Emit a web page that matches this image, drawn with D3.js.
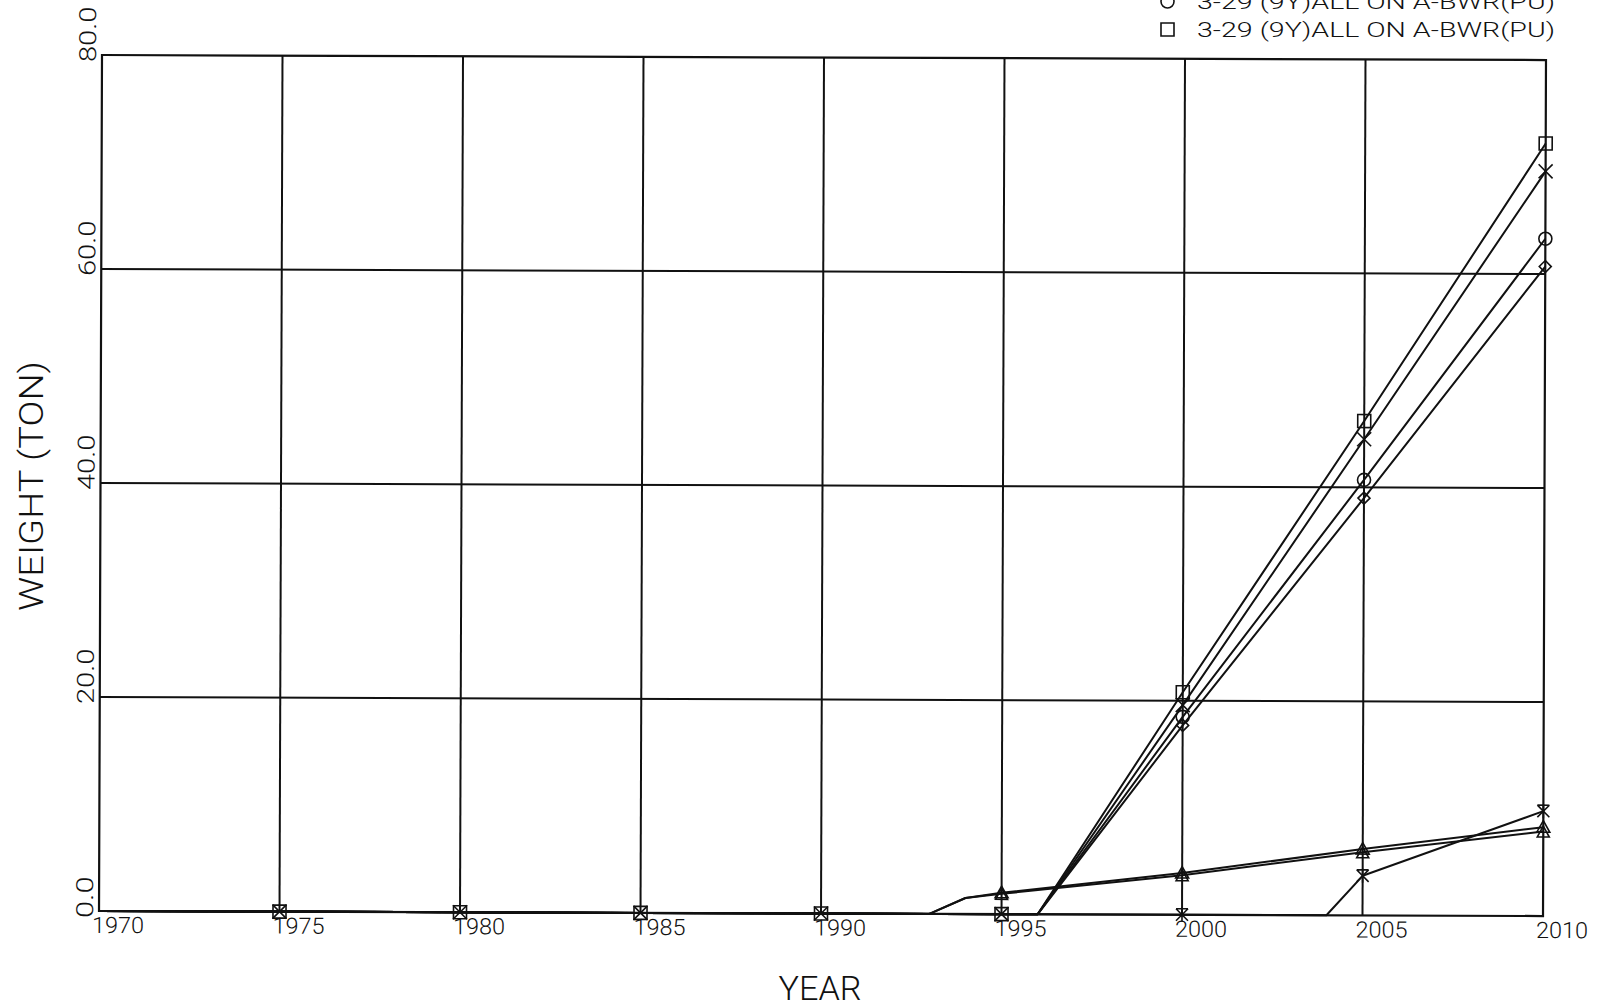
<!DOCTYPE html>
<html>
<head>
<meta charset="utf-8">
<script src="https://cdn.jsdelivr.net/npm/d3@7"></script>
<style>
  html, body { margin: 0; padding: 0; background: #fff; }
  svg { display: block; }
  text { font-family: "Roboto", "DejaVu Sans", sans-serif; font-weight: 300; fill: #111; }
</style>
</head>
<body>
<svg id="chart" width="1597" height="1007"></svg>
<script>
// Tick values and labels
const xTicks = [1970, 1975, 1980, 1985, 1990, 1995, 2000, 2005, 2010];
const yTicks = [0, 20, 40, 60, 80];
const yTickLabels = ["0.0", "20.0", "40.0", "60.0", "80.0"];

// Plutonium inventory series (tons), one array of years and one of values each
const yearsBig = [1970, 1975, 1980, 1985, 1990, 1995, 1996, 2000, 2005, 2010];
const squareVals = [0, 0, 0, 0, 0, 0, 0, 20.8, 46.2, 72.2];
const crossVals = [0, 0, 0, 0, 0, 0, 0, 19.6, 44.5, 69.6];
const circleVals = [0, 0, 0, 0, 0, 0, 0, 18.5, 40.7, 63.3];
const diamondVals = [0, 0, 0, 0, 0, 0, 0, 17.7, 39.0, 60.7];

const yearsSmall = [1970, 1975, 1980, 1985, 1990, 1993, 1994, 1995, 2000, 2005, 2010];
const triUpVals = [0, 0, 0, 0, 0, 0, 1.5, 2.0, 3.9, 6.2, 8.3];
const triVals = [0, 0, 0, 0, 0, 0, 1.5, 1.9, 3.7, 5.9, 7.9];

const yearsStar = [1970, 1975, 1980, 1985, 1990, 1995, 2000, 2004, 2005, 2010];
const starVals = [0, 0, 0, 0, 0, 0, 0, 0, 3.7, 9.8];

// Legend entries that fit on the sheet
const legendLabels = ["3-29 (9Y)ALL ON A-BWR(PU)", "3-29 (9Y)ALL ON A-BWR(PU)"];
const legendMarkers = ["circle", "square"];

const markerPaths = {
  square: "M-6.5,-6.5h13v13h-13z",
  cross: "M-7,-7L7,7M7,-7L-7,7",
  circle: "M6.5,0A6.5,6.5 0 1,1 -6.5,0A6.5,6.5 0 1,1 6.5,0",
  diamond: "M0,-6L6,0L0,6L-6,0Z",
  triUp: "M0,-6.5L6.5,5L-6.5,5Z",
  tri: "M0,-5.5L6,5.5L-6,5.5Z",
  star: "M-6,-6L6,6M6,-6L-6,6M0,-7V7M-6,-6H6"
};

// markFrom: first year that carries a symbol (symbols then every five years)
const series = [
  { years: yearsBig, values: squareVals, marker: "square", markFrom: 1975 },
  { years: yearsBig, values: crossVals, marker: "cross", markFrom: 1975 },
  { years: yearsBig, values: circleVals, marker: "circle", markFrom: 2000 },
  { years: yearsBig, values: diamondVals, marker: "diamond", markFrom: 2000 },
  { years: yearsSmall, values: triUpVals, marker: "triUp", markFrom: 1995 },
  { years: yearsSmall, values: triVals, marker: "tri", markFrom: 1995 },
  { years: yearsStar, values: starVals, marker: "star", markFrom: 2000 }
];

const svg = d3.select("#chart");
const ink = "#111";

const plotLeft = 102, plotRight = 1546, plotTop = 55, plotBottom = 911;
const x = d3.scaleLinear().domain([1970, 2010]).range([plotLeft, plotRight]);
const y = d3.scaleLinear().domain([0, 80]).range([plotBottom, plotTop]);

// Plot sheet sits very slightly tilted
const plot = svg.append("g").attr("transform", `rotate(0.2 ${plotLeft} ${plotTop})`);

// Grid
plot.append("g").selectAll("line")
  .data(xTicks.slice(1, -1)).join("line")
  .attr("x1", d => x(d)).attr("x2", d => x(d))
  .attr("y1", plotTop).attr("y2", plotBottom)
  .attr("stroke", ink).attr("stroke-width", 2);
plot.append("g").selectAll("line")
  .data(yTicks.slice(1, -1)).join("line")
  .attr("x1", plotLeft).attr("x2", plotRight)
  .attr("y1", d => y(d)).attr("y2", d => y(d))
  .attr("stroke", ink).attr("stroke-width", 2);

// Frame
plot.append("rect")
  .attr("x", plotLeft).attr("y", plotTop)
  .attr("width", plotRight - plotLeft).attr("height", plotBottom - plotTop)
  .attr("fill", "none").attr("stroke", ink).attr("stroke-width", 2.2);

// Series lines and their five-year markers
const line = d3.line().x(d => x(d[0])).y(d => y(d[1]));
series.forEach(s => {
  const pts = s.years.map((yr, i) => [yr, s.values[i]]);
  plot.append("path")
    .attr("d", line(pts))
    .attr("fill", "none").attr("stroke", ink)
    .attr("stroke-width", 2).attr("stroke-linejoin", "round");
  plot.append("g").selectAll("path")
    .data(pts.filter(p => p[0] % 5 === 0 && p[0] >= s.markFrom)).join("path")
    .attr("d", markerPaths[s.marker])
    .attr("transform", p => `translate(${x(p[0])},${y(p[1])})`)
    .attr("fill", "none").attr("stroke", ink).attr("stroke-width", 1.6);
});

// X tick labels
plot.append("g").selectAll("text")
  .data(xTicks).join("text")
  .attr("x", d => x(d) - 7).attr("y", 933)
  .attr("font-size", 22.5)
  .attr("textLength", 52).attr("lengthAdjust", "spacingAndGlyphs")
  .text(d => d);

// Y tick labels (rotated)
plot.append("g").selectAll("text")
  .data(yTicks).join("text")
  .attr("transform", d => `translate(96,${y(d) + 7}) rotate(-90)`)
  .attr("font-size", 23.5)
  .attr("textLength", (d, i) => yTickLabels[i].length * 13.8)
  .attr("lengthAdjust", "spacingAndGlyphs")
  .text((d, i) => yTickLabels[i]);

// Axis titles
svg.append("text")
  .attr("transform", "translate(43,486) rotate(-90)")
  .attr("text-anchor", "middle").attr("font-size", 34)
  .attr("textLength", 250).attr("lengthAdjust", "spacingAndGlyphs")
  .text("WEIGHT (TON)");
svg.append("text")
  .attr("x", 820).attr("y", 1000)
  .attr("text-anchor", "middle").attr("font-size", 34)
  .attr("textLength", 83).attr("lengthAdjust", "spacingAndGlyphs")
  .text("YEAR");

// Legend (upper entries run off the top of the sheet)
const legend = svg.append("g");
legendLabels.forEach((lab, i) => {
  const base = 9 + i * 28;
  legend.append("path")
    .attr("d", markerPaths[legendMarkers[i]])
    .attr("transform", `translate(1167.5,${base - 7.5})`)
    .attr("fill", "none").attr("stroke", ink).attr("stroke-width", 1.6);
  legend.append("text")
    .attr("x", 1197).attr("y", base)
    .attr("font-size", 21)
    .attr("textLength", 358).attr("lengthAdjust", "spacingAndGlyphs")
    .text(lab);
});
</script>
</body>
</html>
